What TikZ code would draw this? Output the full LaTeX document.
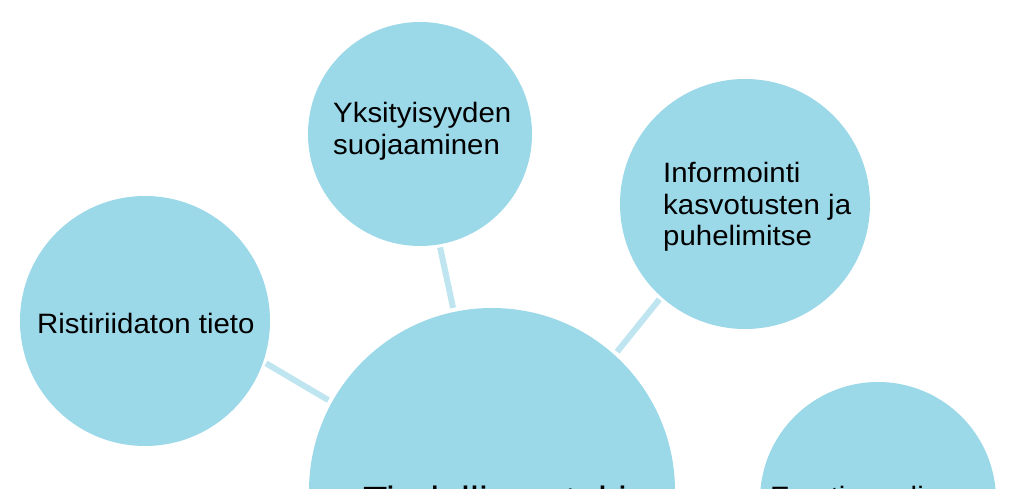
\documentclass[tikz,border=0pt]{standalone}
\usepackage{fontspec}
\setmainfont[FakeStretch=1.05]{Liberation Sans}
\definecolor{bubble}{RGB}{155,216,232}
\definecolor{linkc}{RGB}{191,229,240}
\begin{document}
\begin{tikzpicture}[x=1pt,y=-1pt,
  bubblenode/.style={circle,fill=bubble,draw=none,inner sep=0pt},
  link/.style={draw=linkc,line width=6pt,shorten <=3pt,shorten >=4pt},
  smalltxt/.style={inner sep=0pt,align=left,font=\fontsize{28}{31.5}\selectfont,text=black},
  bigtxt/.style={inner sep=0pt,font=\fontsize{38}{44}\selectfont,text=black}]
\useasboundingbox (0,0) rectangle (1024,489);
\clip (0,0) rectangle (1024,489);
\fill[white] (0,0) rectangle (1024,489);
% circles
\node[bubblenode,minimum size=250pt] (L) at (145,321) {};
\node[bubblenode,minimum size=224pt] (T) at (420,134) {};
\node[bubblenode,minimum size=250pt] (R) at (745,204) {};
\node[bubblenode,minimum size=366pt] (C) at (492,491) {};
\node[bubblenode,minimum size=236pt] (B) at (878,500) {};
% connectors
\draw[link] (L.-19) -- (C.151);
\draw[link] (T.-80) -- (C.102);
\draw[link] (R.228) -- (C.48);
% texts
\node[smalltxt,anchor=base west] (Ltxt) at (37,333) {Ristiriidaton tieto};
\node[smalltxt,anchor=north west] (Ttxt) at (333,102.5) {Yksityisyyden\\suojaaminen};
\node[smalltxt,anchor=north west] (Rtxt) at (663,162.5) {Informointi\\kasvotusten ja\\puhelimitse};
\node[bigtxt,anchor=base west] (Ctxt) at (363,513) {Tiedollinen tuki};
\node[smalltxt,anchor=north west] (Btxt) at (770,486) {Emotionaalinen\\tuki};
\end{tikzpicture}
\end{document}
